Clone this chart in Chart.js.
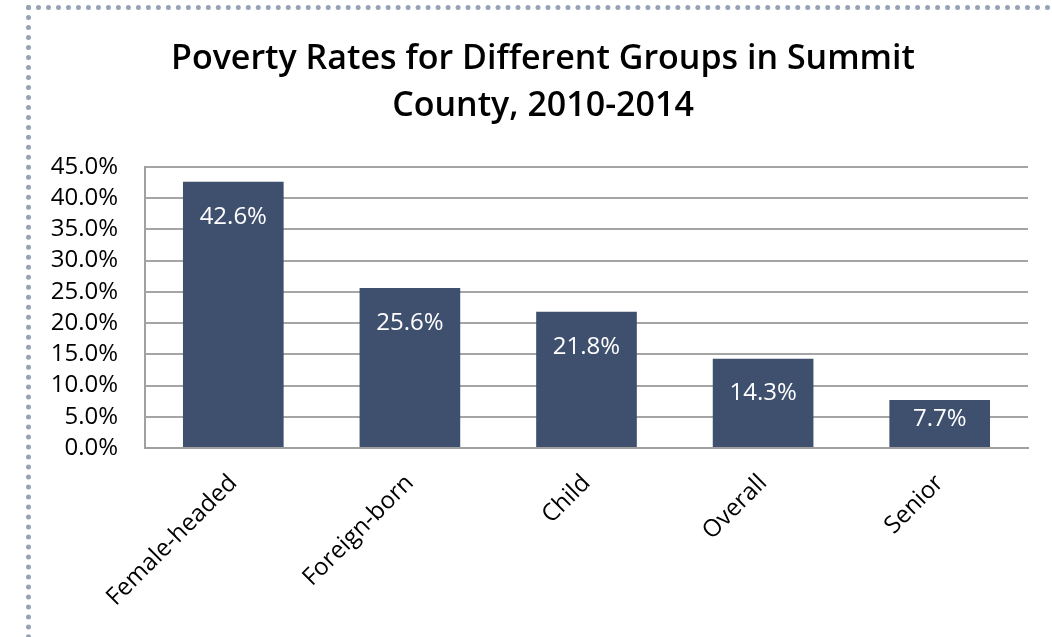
<!DOCTYPE html>
<html lang="en">
<head>
    <meta charset="UTF-8">
    <title>Poverty Rates</title>
    <style>
        body { margin: 0; background: #fff; }
        #frame {
            position: absolute; left: 26px; top: 5px; width: 1100px; height: 700px;
            border-left: 5px dotted #96a3b6; border-top: 5px dotted #96a3b6;
        }
        #wrap { position: absolute; left: 0; top: 0; width: 1052px; height: 637px; }
    </style>
</head>
<body>
    <div id="frame"></div>
    <div id="wrap">
        <canvas id="myChart"></canvas>
    </div>

    <script src="https://cdn.jsdelivr.net/npm/chart.js"></script>
    <script>
        // groups and their poverty rates (%)
        const v_groups = ['Female-headed', 'Foreign-born', 'Child', 'Overall', 'Senior'];
        const v_rates = [42.6, 25.6, 21.8, 14.3, 7.7];
        const v_title = ['Poverty Rates for Different Groups in Summit', 'County, 2010-2014'];

        const v_font = 'Open Sans';

        // value labels inside the top of each bar
        const barLabels = {
            id: 'barLabels',
            afterDatasetsDraw(chart) {
                const c = chart.ctx;
                const meta = chart.getDatasetMeta(0);
                c.save();
                c.fillStyle = '#ffffff';
                c.font = '500 24px "' + v_font + '"';
                c.textAlign = 'center';
                c.textBaseline = 'middle';
                meta.data.forEach((bar, i) => {
                    let y = Math.min(bar.y + 35, (bar.y + bar.base) / 2 - 4);
                    c.fillText(v_rates[i].toFixed(1) + '%', bar.x, y);
                });
                c.restore();
            }
        };

        const ctx = document.querySelector('#myChart');
        new Chart(ctx, {
            type: 'bar',
            data: {
                labels: v_groups,
                datasets: [{
                    data: v_rates,
                    backgroundColor: '#3f506e',
                    categoryPercentage: 1,
                    barPercentage: 0.57
                }]
            },
            options: {
                responsive: true,
                maintainAspectRatio: false,
                animation: false,
                layout: { padding: { left: 34, right: 0, top: 0, bottom: 0 } },
                plugins: {
                    legend: { display: false },
                    tooltip: { enabled: false },
                    title: {
                        display: true,
                        text: v_title,
                        color: '#000',
                        font: { family: v_font, size: 34, weight: '600', lineHeight: 1.38 },
                        padding: { top: 36, bottom: 37 }
                    }
                },
                scales: {
                    x: {
                        grid: { display: false },
                        border: { color: '#a0a0a0', width: 2 },
                        ticks: {
                            color: '#000',
                            font: { family: v_font, size: 24 },
                            minRotation: 45,
                            maxRotation: 45,
                            padding: 13
                        },
                        afterFit(scale) { scale.height = 189; }
                    },
                    y: {
                        min: 0,
                        max: 45,
                        grid: { color: '#a5a5a5', lineWidth: 2, drawTicks: false },
                        border: { color: '#a0a0a0', width: 2 },
                        ticks: {
                            stepSize: 5,
                            autoSkip: false,
                            color: '#000',
                            font: { family: v_font, size: 24 },
                            padding: 27,
                            callback: (v) => v.toFixed(1) + '%'
                        },
                        afterFit(scale) { scale.width = 111; }
                    },
                    // empty right margin so the plot stops short while the title stays centred
                    yRight: {
                        type: 'linear',
                        position: 'right',
                        grid: { display: false },
                        border: { display: false },
                        ticks: { display: false },
                        afterFit(scale) { scale.width = 24; }
                    }
                }
            },
            plugins: [barLabels]
        });
    </script>
</body>
</html>
